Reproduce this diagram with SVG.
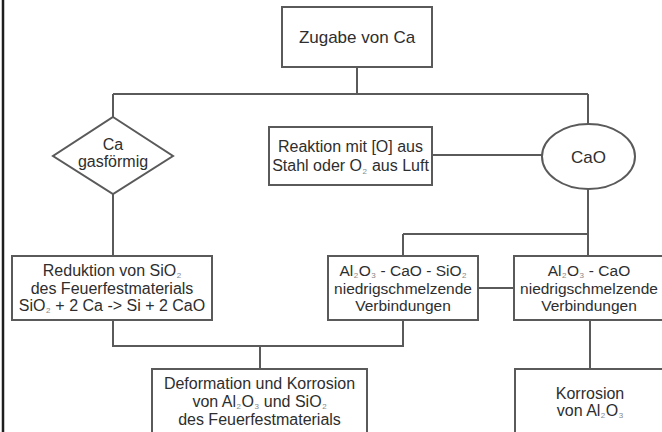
<svg xmlns="http://www.w3.org/2000/svg" width="662" height="432" viewBox="0 0 662 432">
<style>
.box{fill:#fff;stroke:#5a5a5a;stroke-width:2}
.con{fill:none;stroke:#5a5a5a;stroke-width:2}
text{font-family:"Liberation Sans",Arial,sans-serif;font-size:16px;fill:#2e2e2e;text-anchor:middle}
.big{font-size:17px}
.sm{font-size:15.5px}
.sub{font-size:8px;fill:#888}
</style>
<rect x="0" y="0" width="662" height="432" fill="#fff"/>
<line x1="3" y1="0" x2="3" y2="432" stroke="#1e1e1e" stroke-width="2.5"/>
<g id="connectors" class="con">
<path d="M357 67 V94 M113 94 H588 M113 94 V117 M588 94 V124"/>
<path d="M113 194 V256"/>
<path d="M432 155 H542"/>
<path d="M588 189 V256 M403 234 H588 M403 234 V256"/>
<path d="M478 288 H514"/>
<path d="M113 320 V346 H403 V320 M260 346 V369"/>
<path d="M590 320 V369"/>
</g>
<g id="zugabe">
<rect class="box" x="282" y="7" width="150" height="60"/>
<text class="big" x="357" y="43">Zugabe von Ca</text>
</g>
<g id="ca-gas">
<polygon class="box" points="113,117 173,156 113,194 53,156"/>
<text x="113" y="150">Ca</text>
<text x="113" y="167">gasförmig</text>
</g>
<g id="reaktion">
<rect class="box" x="269" y="127" width="163" height="58"/>
<text x="350.5" y="152">Reaktion mit [O] aus</text>
<text x="350.5" y="171">Stahl oder O<tspan class="sub" dx="0.5" dy="3">2</tspan><tspan dx="0.5" dy="-3"> aus Luft</tspan></text>
</g>
<g id="cao">
<ellipse class="box" cx="588.5" cy="156.5" rx="46.5" ry="32.5"/>
<text class="big" x="588.5" y="163">CaO</text>
</g>
<g id="reduktion">
<rect class="box" x="12" y="256" width="200" height="64"/>
<text x="112" y="276">Reduktion von SiO<tspan class="sub" dx="0.5" dy="2">2</tspan></text>
<text x="112" y="294">des Feuerfestmaterials</text>
<text x="112" y="311">SiO<tspan class="sub" dx="0.5" dy="2">2</tspan><tspan dx="0.5" dy="-2"> + 2 Ca -&gt; Si + 2 CaO</tspan></text>
</g>
<g id="al-ca-si">
<rect class="box" x="328" y="256" width="150" height="64"/>
<text class="sm" x="403" y="276">Al<tspan class="sub" dx="0.5" dy="2">2</tspan><tspan dx="0.5" dy="-2">O</tspan><tspan class="sub" dx="0.5" dy="2">3</tspan><tspan dx="0.5" dy="-2"> - CaO - SiO</tspan><tspan class="sub" dx="0.5" dy="2">2</tspan></text>
<text class="sm" x="403" y="294">niedrigschmelzende</text>
<text class="sm" x="403" y="311">Verbindungen</text>
</g>
<g id="al-ca">
<rect class="box" x="514" y="256" width="152" height="64"/>
<text class="sm" x="589" y="276">Al<tspan class="sub" dx="0.5" dy="2">2</tspan><tspan dx="0.5" dy="-2">O</tspan><tspan class="sub" dx="0.5" dy="2">3</tspan><tspan dx="0.5" dy="-2"> - CaO</tspan></text>
<text class="sm" x="589" y="294">niedrigschmelzende</text>
<text class="sm" x="589" y="311">Verbindungen</text>
</g>
<g id="deformation">
<rect class="box" x="152" y="369" width="215" height="70"/>
<text x="259.5" y="389">Deformation und Korrosion</text>
<text x="259.5" y="407">von Al<tspan class="sub" dx="0.5" dy="2">2</tspan><tspan dx="0.5" dy="-2">O</tspan><tspan class="sub" dx="0.5" dy="2">3</tspan><tspan dx="0.5" dy="-2"> und SiO</tspan><tspan class="sub" dx="0.5" dy="2">2</tspan></text>
<text x="259.5" y="425">des Feuerfestmaterials</text>
</g>
<g id="korrosion">
<rect class="box" x="515" y="369" width="152" height="70"/>
<text x="590" y="399">Korrosion</text>
<text x="590" y="416">von Al<tspan class="sub" dx="0.5" dy="2">2</tspan><tspan dx="0.5" dy="-2">O</tspan><tspan class="sub" dx="0.5" dy="2">3</tspan></text>
</g>
</svg>
